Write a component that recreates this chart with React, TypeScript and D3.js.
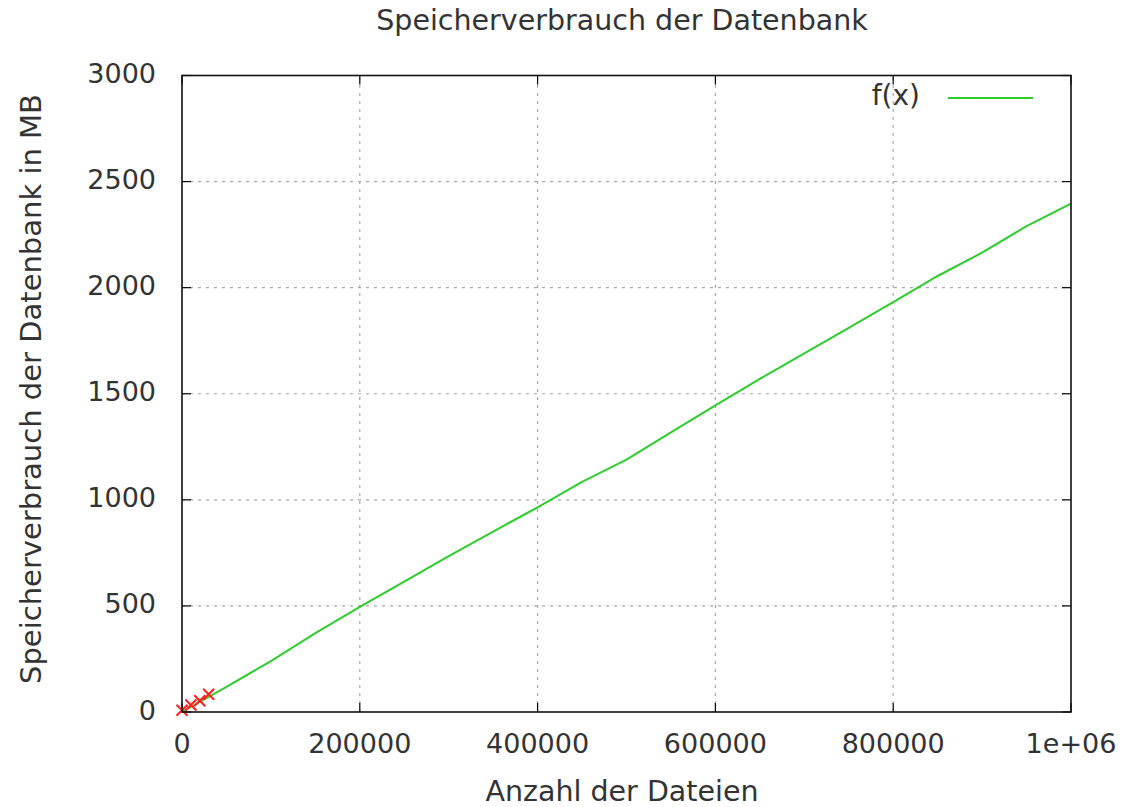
import React, { useEffect, useRef } from 'react';
import * as d3 from 'd3';

// measured points (red crosses)
const pointFiles = [0, 10000, 20000, 30000];
const pointMB = [8, 33, 53, 84];

// fitted curve f(x)
const curveFiles = [0, 50000, 100000, 150000, 200000, 250000, 300000, 350000, 400000, 450000, 500000,
    550000, 600000, 650000, 700000, 750000, 800000, 850000, 900000, 950000, 1000000];
const curveMB = [0, 118, 240, 372, 495, 615, 735, 850, 965, 1085, 1190,
    1318, 1445, 1570, 1690, 1810, 1932, 2055, 2165, 2290, 2396];

const xTicks = [0, 200000, 400000, 600000, 800000, 1000000];
const xTickLabels = ['0', '200000', '400000', '600000', '800000', '1e+06'];
const yTicks = [0, 500, 1000, 1500, 2000, 2500, 3000];

const FONT = 'DejaVu Sans, sans-serif';
const TXT = '#333';

function App() {
    const ref = useRef<SVGSVGElement>(null);

    useEffect(() => {
        const width = 1127, height = 807;
        const left = 182, right = 1071, top = 75.5, bottom = 712;

        const svg = d3.select(ref.current)
            .attr('width', width)
            .attr('height', height);
        svg.selectAll('*').remove();

        svg.append('rect').attr('width', width).attr('height', height).attr('fill', '#fff');

        const x = d3.scaleLinear().domain([0, 1000000]).range([left, right]);
        const y = d3.scaleLinear().domain([0, 3000]).range([bottom, top]);

        // grid
        const grid = svg.append('g')
            .attr('stroke', '#a8a8a8')
            .attr('stroke-width', 1.2)
            .attr('stroke-dasharray', '3,5');
        xTicks.slice(1, -1).forEach(t => {
            grid.append('line').attr('x1', x(t)).attr('x2', x(t)).attr('y1', bottom).attr('y2', top);
        });
        yTicks.slice(1, -1).forEach(t => {
            grid.append('line').attr('y1', y(t)).attr('y2', y(t)).attr('x1', left).attr('x2', right);
        });

        // ticks (inward, mirrored)
        const tk = svg.append('g').attr('stroke', '#000').attr('stroke-width', 1.2);
        const len = 9;
        xTicks.forEach(t => {
            tk.append('line').attr('x1', x(t)).attr('x2', x(t)).attr('y1', bottom).attr('y2', bottom - len);
            tk.append('line').attr('x1', x(t)).attr('x2', x(t)).attr('y1', top).attr('y2', top + len);
        });
        yTicks.forEach(t => {
            tk.append('line').attr('y1', y(t)).attr('y2', y(t)).attr('x1', left).attr('x2', left + len);
            tk.append('line').attr('y1', y(t)).attr('y2', y(t)).attr('x1', right).attr('x2', right - len);
        });

        // tick labels
        xTicks.forEach((t, i) => {
            svg.append('text')
                .attr('x', x(t)).attr('y', bottom + 41)
                .attr('text-anchor', 'middle')
                .attr('font-family', FONT).attr('font-size', 27)
                .attr('fill', TXT)
                .text(xTickLabels[i]);
        });
        yTicks.forEach(t => {
            svg.append('text')
                .attr('x', left - 26).attr('y', y(t) + 7.5)
                .attr('text-anchor', 'end')
                .attr('font-family', FONT).attr('font-size', 27)
                .attr('fill', TXT)
                .text(String(t));
        });

        // curve
        const lineData = curveFiles.map((f, i) => [f, curveMB[i]] as [number, number]);
        const line = d3.line<[number, number]>()
            .x(d => x(d[0]))
            .y(d => y(d[1]));
        svg.append('path')
            .datum(lineData)
            .attr('d', line)
            .attr('fill', 'none')
            .attr('stroke', '#2ecc2e')
            .attr('stroke-width', 2);

        // measured points as crosses
        const s = 5.5;
        pointFiles.forEach((f, i) => {
            const cx = x(f), cy = y(pointMB[i]);
            svg.append('path')
                .attr('d', `M${cx - s},${cy - s}L${cx + s},${cy + s}M${cx - s},${cy + s}L${cx + s},${cy - s}`)
                .attr('stroke', '#ff2020')
                .attr('stroke-width', 2)
                .attr('fill', 'none');
        });

        // frame
        svg.append('rect')
            .attr('x', left).attr('y', top)
            .attr('width', right - left).attr('height', bottom - top)
            .attr('fill', 'none')
            .attr('stroke', '#111')
            .attr('stroke-width', 1.6);

        // legend
        svg.append('text')
            .attr('x', 920).attr('y', 105)
            .attr('text-anchor', 'end')
            .attr('font-family', FONT).attr('font-size', 28)
            .attr('fill', TXT)
            .text('f(x)');
        svg.append('line')
            .attr('x1', 948).attr('x2', 1033).attr('y1', 98).attr('y2', 98)
            .attr('stroke', '#2ecc2e').attr('stroke-width', 2);

        // title and axis labels
        svg.append('text')
            .attr('x', 622).attr('y', 30)
            .attr('text-anchor', 'middle')
            .attr('font-family', FONT).attr('font-size', 28.5)
            .attr('fill', TXT)
            .text('Speicherverbrauch der Datenbank');
        svg.append('text')
            .attr('x', 622).attr('y', 801)
            .attr('text-anchor', 'middle')
            .attr('font-family', FONT).attr('font-size', 28.5)
            .attr('fill', TXT)
            .text('Anzahl der Dateien');
        svg.append('text')
            .attr('transform', `translate(41,389) rotate(-90)`)
            .attr('text-anchor', 'middle')
            .attr('font-family', FONT).attr('font-size', 29)
            .attr('fill', TXT)
            .text('Speicherverbrauch der Datenbank in MB');
    }, []);

    return (
        <svg ref={ref} style={{ position: 'absolute', left: 0, top: 0 }}></svg>
    );
}

export default App;
